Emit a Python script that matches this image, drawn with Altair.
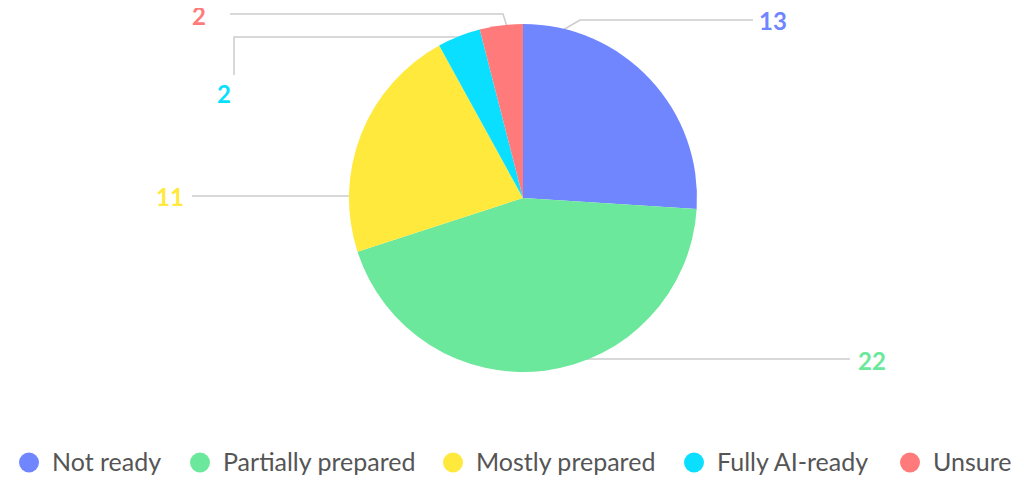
import altair as alt
import pandas as pd

# ---- data ----
categories = ["Not ready", "Partially prepared", "Mostly prepared", "Fully AI-ready", "Unsure"]
values = [13, 22, 11, 2, 2]
colors = ["#6F86FF", "#6BE89B", "#FFE93C", "#0ADFFF", "#FF7B7B"]

# ---- layout (pixel positions in chart space, page offset 8px) ----
OFF = 8
CX, CY, R = 523 - OFF, 198 - OFF, 174
label_pos = {  # page coords of value labels (center x, baseline y)
    "Not ready": (773, 30),
    "Partially prepared": (872, 370),
    "Mostly prepared": (170, 206),
    "Fully AI-ready": (224, 103),
    "Unsure": (199, 25),
}
connectors = {  # page coords polylines (pie is drawn on top)
    "Not ready": [(753, 20), (580, 20), (556, 34)],
    "Partially prepared": [(850, 359), (580, 359)],
    "Mostly prepared": [(192, 196), (360, 196)],
    "Fully AI-ready": [(234, 75), (234, 37), (470, 37)],
    "Unsure": [(230, 14), (503, 14), (508, 30)],
}
legend_x = [29, 200, 453, 694, 910]  # page x of legend circle centers
LEG_Y, LEG_BASE = 462.5, 471

W, H = 1008, 470

pie_df = pd.DataFrame({"category": categories, "value": values, "idx": list(range(len(categories)))})
lab_df = pd.DataFrame({
    "category": categories,
    "value": values,
    "x": [label_pos[c][0] - OFF for c in categories],
    "y": [label_pos[c][1] - OFF for c in categories],
})
rows = []
for c in categories:
    for i, (px, py) in enumerate(connectors[c]):
        rows.append({"category": c, "i": i, "x": px - OFF, "y": py - OFF})
con_df = pd.DataFrame(rows)
leg_df = pd.DataFrame({
    "category": categories,
    "x": [lx - OFF for lx in legend_x],
    "tx": [lx + 23 - OFF for lx in legend_x],
    "y": [LEG_Y - OFF] * len(categories),
    "ty": [LEG_BASE - OFF] * len(categories),
})

xs = alt.Scale(domain=[0, W], range=[0, W], nice=False, zero=False)
ys = alt.Scale(domain=[0, H], range=[0, H], nice=False, zero=False)
cs = alt.Scale(domain=categories, range=colors)

lines = alt.Chart(con_df).mark_line(color="#cccccc", strokeWidth=1.5).encode(
    x=alt.X("x:Q", scale=xs, axis=None),
    y=alt.Y("y:Q", scale=ys, axis=None),
    detail="category:N",
    order="i:Q",
)

pie = alt.Chart(pie_df).mark_arc(outerRadius=R).encode(
    theta=alt.Theta("value:Q", stack=True),
    color=alt.Color("category:N", scale=cs, sort=categories, legend=None),
    order=alt.Order("idx:Q"),
    x=alt.value(CX),
    y=alt.value(CY),
)

labels = alt.Chart(lab_df).mark_text(
    fontSize=24, font="Lato", fontWeight="bold", align="center", baseline="alphabetic"
).encode(
    x=alt.X("x:Q", scale=xs, axis=None),
    y=alt.Y("y:Q", scale=ys, axis=None),
    text="value:Q",
    color=alt.Color("category:N", scale=cs, legend=None),
)

leg_sym = alt.Chart(leg_df).mark_point(shape="circle", filled=True, size=400, opacity=1).encode(
    x=alt.X("x:Q", scale=xs, axis=None),
    y=alt.Y("y:Q", scale=ys, axis=None),
    color=alt.Color("category:N", scale=cs, legend=None),
)

leg_txt = alt.Chart(leg_df).mark_text(
    fontSize=25, font="Lato", color="#555555", align="left", baseline="alphabetic"
).encode(
    x=alt.X("tx:Q", scale=xs, axis=None),
    y=alt.Y("ty:Q", scale=ys, axis=None),
    text="category:N",
)

chart = alt.layer(lines, pie, labels, leg_sym, leg_txt).properties(
    width=W, height=H, padding=0, autosize=alt.AutoSizeParams(type="none")
).configure_view(stroke=None)

chart.save("out.html", embed_options={"renderer": "svg", "actions": False})
